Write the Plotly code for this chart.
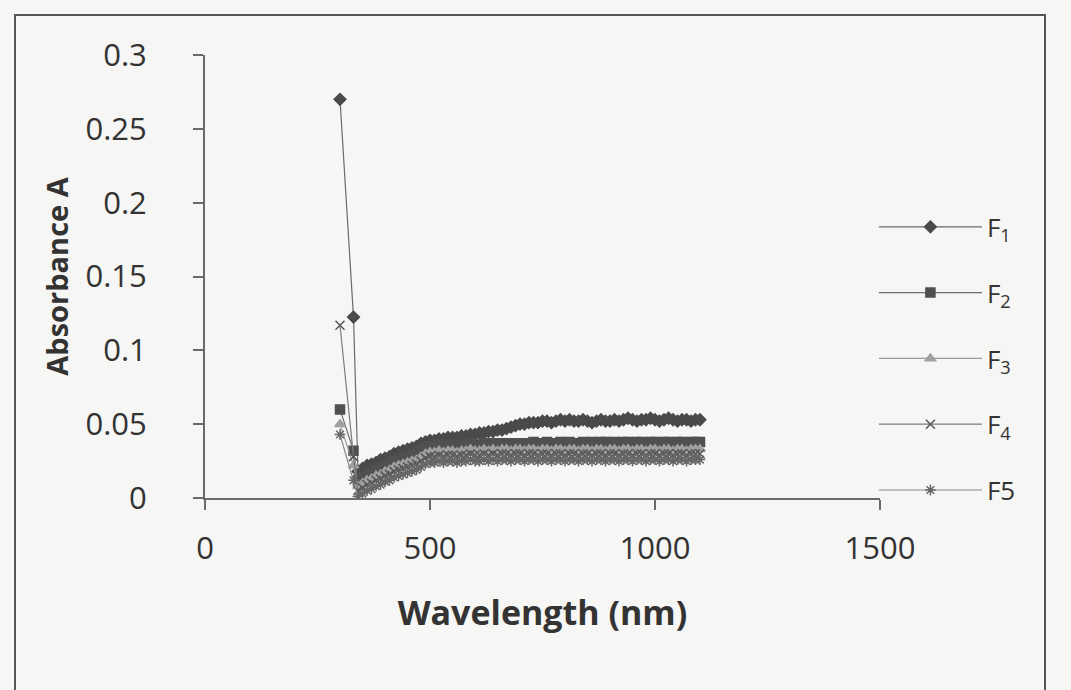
import plotly.graph_objects as go

wavelength = [300, 330,
              340, 350, 360, 370, 380, 390, 400, 410, 420, 430,
              440, 450, 460, 470, 480, 490, 500, 510, 520, 530,
              540, 550, 560, 570, 580, 590, 600, 610, 620, 630,
              640, 650, 660, 670, 680, 690, 700, 710, 720, 730,
              740, 750, 760, 770, 780, 790, 800, 810, 820, 830,
              840, 850, 860, 870, 880, 890, 900, 910, 920, 930,
              940, 950, 960, 970, 980, 990, 1000, 1010, 1020, 1030,
              1040, 1050, 1060, 1070, 1080, 1090, 1100]

F1 = [0.270, 0.1225,
      0.018, 0.020, 0.022, 0.023, 0.024, 0.026, 0.027, 0.028, 0.030, 0.031,
      0.032, 0.033, 0.034, 0.035, 0.037, 0.038, 0.039, 0.039, 0.040, 0.040,
      0.041, 0.041, 0.041, 0.042, 0.042, 0.043, 0.043, 0.044, 0.044, 0.045,
      0.045, 0.046, 0.046, 0.047, 0.048, 0.049, 0.050, 0.050, 0.051, 0.051,
      0.051, 0.052, 0.052, 0.051, 0.052, 0.053, 0.052, 0.053, 0.052, 0.052,
      0.053, 0.052, 0.051, 0.052, 0.053, 0.052, 0.052, 0.053, 0.052, 0.053,
      0.054, 0.053, 0.052, 0.053, 0.053, 0.054, 0.053, 0.052, 0.053, 0.054,
      0.053, 0.052, 0.053, 0.053, 0.052, 0.053, 0.053]

F2 = [0.060, 0.032,
      0.012, 0.014, 0.016, 0.017, 0.019, 0.020, 0.022, 0.023, 0.025, 0.026,
      0.027, 0.028, 0.029, 0.030, 0.032, 0.034, 0.035, 0.035, 0.036, 0.035,
      0.036, 0.036, 0.035, 0.036, 0.036, 0.037, 0.036, 0.036, 0.037, 0.036,
      0.037, 0.036, 0.037, 0.037, 0.036, 0.037, 0.037, 0.036, 0.037, 0.038,
      0.037, 0.037, 0.038, 0.037, 0.037, 0.038, 0.037, 0.038, 0.037, 0.037,
      0.038, 0.037, 0.038, 0.037, 0.038, 0.038, 0.037, 0.038, 0.037, 0.038,
      0.038, 0.037, 0.038, 0.038, 0.037, 0.038, 0.038, 0.037, 0.038, 0.038,
      0.037, 0.038, 0.038, 0.037, 0.038, 0.038, 0.038]

F3 = [0.050, 0.022,
      0.008, 0.010, 0.012, 0.013, 0.015, 0.016, 0.018, 0.019, 0.021, 0.022,
      0.023, 0.024, 0.025, 0.026, 0.028, 0.030, 0.031, 0.031, 0.032, 0.031,
      0.032, 0.032, 0.031, 0.032, 0.032, 0.033, 0.032, 0.032, 0.033, 0.032,
      0.033, 0.032, 0.033, 0.033, 0.032, 0.033, 0.033, 0.032, 0.033, 0.033,
      0.032, 0.033, 0.033, 0.032, 0.033, 0.033, 0.032, 0.033, 0.033, 0.032,
      0.033, 0.033, 0.032, 0.033, 0.033, 0.032, 0.033, 0.033, 0.032, 0.033,
      0.033, 0.032, 0.033, 0.033, 0.032, 0.033, 0.033, 0.032, 0.033, 0.033,
      0.032, 0.033, 0.033, 0.032, 0.033, 0.033, 0.033]

F4 = [0.117, 0.028,
      0.005, 0.007, 0.009, 0.010, 0.012, 0.013, 0.015, 0.016, 0.018, 0.019,
      0.020, 0.021, 0.022, 0.023, 0.025, 0.027, 0.028, 0.028, 0.029, 0.028,
      0.029, 0.029, 0.028, 0.029, 0.029, 0.030, 0.029, 0.029, 0.030, 0.029,
      0.030, 0.029, 0.030, 0.030, 0.029, 0.030, 0.030, 0.029, 0.030, 0.030,
      0.029, 0.030, 0.030, 0.029, 0.030, 0.030, 0.029, 0.030, 0.030, 0.029,
      0.030, 0.030, 0.029, 0.030, 0.030, 0.029, 0.030, 0.030, 0.029, 0.030,
      0.030, 0.029, 0.030, 0.030, 0.029, 0.030, 0.030, 0.029, 0.030, 0.030,
      0.029, 0.030, 0.030, 0.029, 0.030, 0.030, 0.030]

F5 = [0.043, 0.012,
      0.001, 0.003, 0.005, 0.006, 0.008, 0.009, 0.011, 0.012, 0.014, 0.015,
      0.016, 0.017, 0.018, 0.019, 0.021, 0.023, 0.024, 0.024, 0.025, 0.024,
      0.025, 0.025, 0.024, 0.025, 0.025, 0.026, 0.025, 0.025, 0.026, 0.025,
      0.026, 0.025, 0.026, 0.026, 0.025, 0.026, 0.026, 0.025, 0.026, 0.026,
      0.025, 0.026, 0.026, 0.025, 0.026, 0.026, 0.025, 0.026, 0.026, 0.025,
      0.026, 0.026, 0.025, 0.026, 0.026, 0.025, 0.026, 0.026, 0.025, 0.026,
      0.026, 0.025, 0.026, 0.026, 0.025, 0.026, 0.026, 0.025, 0.026, 0.026,
      0.025, 0.026, 0.026, 0.025, 0.026, 0.026, 0.026]

series_names = ["F<sub>1</sub>", "F<sub>2</sub>", "F<sub>3</sub>", "F<sub>4</sub>", "F5"]
series_values = [F1, F2, F3, F4, F5]
symbols = ["diamond", "square", "triangle-up", "x-thin-open", "asterisk-open"]
line_colors = ["#6a6a6a", "#6e6e6e", "#9a9a9a", "#7a7a7a", "#8a8a8a"]
marker_colors = ["#4a4a4a", "#505050", "#a0a0a0", "#555555", "#666666"]
marker_sizes = [9, 9, 9, 9, 9]

fig = go.Figure()
for i, (name, vals) in enumerate(zip(series_names, series_values)):
    fig.add_trace(go.Scatter(
        x=wavelength, y=vals, name=name, mode="lines+markers",
        legendgroup=f"g{i}",
        line=dict(color=line_colors[i], width=1.2),
        marker=dict(symbol=symbols[i], size=marker_sizes[i], color=marker_colors[i],
                    line=dict(color=marker_colors[i], width=1.5)),
    ))

font_family = "Open Sans, Liberation Sans, sans-serif"
text_color = "#333333"

fig.update_layout(
    width=1071, height=690,
    paper_bgcolor="#f6f6f4", plot_bgcolor="#f6f6f4",
    margin=dict(l=205, r=191, t=55, b=192),
    font=dict(family=font_family, color=text_color),
    showlegend=True,
    legend=dict(
        x=0.991, xanchor="left", y=0.665, yanchor="top",
        bgcolor="rgba(0,0,0,0)", font=dict(size=26, color=text_color),
        tracegroupgap=29, itemwidth=103,
    ),
    xaxis=dict(
        range=[0, 1500], tickvals=[0, 500, 1000, 1500],
        showline=True, linecolor="#6a6a6a", linewidth=2,
        ticks="outside", ticklen=10, tickcolor="#6a6a6a", tickwidth=2,
        showgrid=False, zeroline=False,
        tickfont=dict(size=31, color=text_color), ticklabelstandoff=12,
        title=dict(text="<b>Wavelength (nm)</b>", font=dict(size=34, color=text_color),
                   standoff=34),
    ),
    yaxis=dict(
        range=[0, 0.3], dtick=0.05,
        showline=True, linecolor="#6a6a6a", linewidth=2,
        ticks="outside", ticklen=10, tickcolor="#6a6a6a", tickwidth=2,
        showgrid=False, zeroline=False,
        tickfont=dict(size=31, color=text_color), ticklabelstandoff=40,
        title=dict(text="<b>Absorbance A</b>", font=dict(size=29, color=text_color),
                   standoff=8),
    ),
    shapes=[dict(type="rect", xref="paper", yref="paper",
                 x0=-190 / 675, x1=840 / 675, y0=-250 / 443, y1=(443 + 40) / 443,
                 line=dict(color="#555555", width=2), fillcolor="rgba(0,0,0,0)",
                 layer="below")],
)

fig.write_html("out.html")
